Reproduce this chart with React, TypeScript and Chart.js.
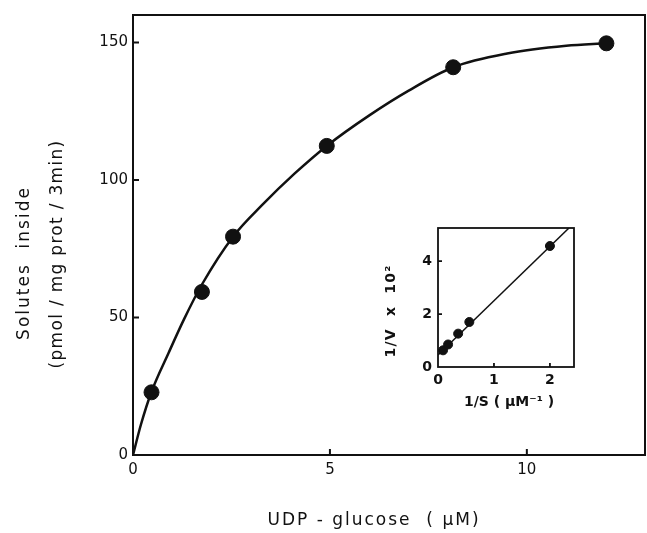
import React, { useEffect, useRef } from "react";
import { Chart, registerables } from "chart.js";

Chart.register(...registerables);

// ---- Main plot data ----
const substrateUM = [0.47, 1.75, 2.54, 4.92, 8.13, 12.02];
const solutesInside = [22.8, 59.3, 79.4, 112.4, 141.0, 149.7];
// hand-drawn saturation curve, read at points along its path
const curveS = [0, 0.2, 0.47, 0.9, 1.3, 1.75, 2.54, 3.3, 4.1, 4.92, 6.0, 7.0, 8.13, 9.5, 11.0, 12.02];
const curveV = [0, 11.0, 23.0, 37.0, 49.5, 62.0, 79.4, 91.2, 102.3, 112.4, 123.5, 132.5, 141.0, 146.0, 148.8, 149.7];
const mainXTicks = [0, 5, 10];
const mainYTicks = [0, 50, 100, 150];

// ---- Inset (Lineweaver-Burk) data ----
const inverseS = [0.09, 0.18, 0.36, 0.56, 2.0];
const inverseV = [0.63, 0.85, 1.26, 1.7, 4.57];
const fitInvS = [0, 2.34];
const fitInvV = [0.45, 5.25];
const insetXTicks = [0, 1, 2];
const insetYTicks = [0, 2, 4];

const INK = "#111";

type TextItem = { text: string; x: number; y: number; rot: number; font: string; spacing: number };

function framePlugin(len: number, lw: number) {
  return {
    id: "frameTicks",
    beforeDatasetsDraw(chart: any) {
      const { ctx, chartArea } = chart;
      const { left, right, top, bottom } = chartArea;
      const x = chart.scales.x;
      const y = chart.scales.y;
      ctx.save();
      ctx.strokeStyle = INK;
      ctx.lineWidth = lw;
      ctx.strokeRect(left, top, right - left, bottom - top);
      ctx.beginPath();
      x.ticks.forEach((t: any) => {
        if (t.value === x.min) return;
        const px = x.getPixelForValue(t.value);
        ctx.moveTo(px, bottom);
        ctx.lineTo(px, bottom - len);
      });
      y.ticks.forEach((t: any) => {
        if (t.value === y.min) return;
        const py = y.getPixelForValue(t.value);
        ctx.moveTo(left, py);
        ctx.lineTo(left + len, py);
      });
      ctx.stroke();
      ctx.restore();
    },
  };
}

function textPlugin(items: TextItem[]) {
  return {
    id: "titles",
    afterDraw(chart: any) {
      const ctx = chart.ctx;
      items.forEach((it) => {
        ctx.save();
        ctx.fillStyle = INK;
        ctx.font = it.font;
        (ctx as any).letterSpacing = it.spacing + "px";
        ctx.textAlign = "center";
        ctx.textBaseline = "middle";
        ctx.translate(it.x, it.y);
        ctx.rotate(it.rot);
        ctx.fillText(it.text, 0, 0);
        ctx.restore();
      });
    },
  };
}

const fixX = (h: number) => (s: any) => {
  s.height = h;
  s.paddingLeft = 0;
  s.paddingRight = 0;
};
const fixY = (w: number) => (s: any) => {
  s.width = w;
  s.paddingTop = 0;
  s.paddingBottom = 0;
};

export default function App() {
  const mainRef = useRef<HTMLCanvasElement>(null);
  const insetRef = useRef<HTMLCanvasElement>(null);

  useEffect(() => {
    const tickFont = { family: "DejaVu Sans", size: 15 };
    const main = new Chart(mainRef.current as HTMLCanvasElement, {
      type: "scatter",
      data: {
        datasets: [
          {
            type: "scatter",
            data: substrateUM.map((s, i) => ({ x: s, y: solutesInside[i] })),
            backgroundColor: INK,
            borderColor: INK,
            pointRadius: 7.5,
            order: 0,
          },
          {
            type: "line",
            data: curveS.map((s, i) => ({ x: s, y: curveV[i] })),
            borderColor: INK,
            borderWidth: 2.5,
            pointRadius: 0,
            cubicInterpolationMode: "monotone",
            fill: false,
            order: 1,
          } as any,
        ],
      },
      options: {
        responsive: false,
        animation: false,
        layout: { autoPadding: false, padding: { top: 15, right: 2, left: 0, bottom: 0 } },
        plugins: { legend: { display: false }, tooltip: { enabled: false } },
        scales: {
          x: {
            type: "linear",
            min: 0,
            max: 13,
            afterBuildTicks: (s: any) => {
              s.ticks = mainXTicks.map((v) => ({ value: v }));
            },
            afterFit: fixX(78),
            grid: { display: false, drawTicks: false },
            border: { display: false },
            ticks: { padding: 6, color: INK, font: tickFont, maxRotation: 0, autoSkip: false },
          },
          y: {
            type: "linear",
            min: 0,
            max: 160,
            afterBuildTicks: (s: any) => {
              s.ticks = mainYTicks.map((v) => ({ value: v }));
            },
            afterFit: fixY(133),
            grid: { display: false, drawTicks: false },
            border: { display: false },
            ticks: { padding: 5, color: INK, font: tickFont, autoSkip: false },
          },
        },
      },
      plugins: [
        framePlugin(6, 2),
        textPlugin([
          { text: "Solutes  inside", x: 25, y: 263, rot: -Math.PI / 2, font: "17px 'DejaVu Sans'", spacing: 2 },
          { text: "(pmol / mg prot / 3min)", x: 58, y: 254, rot: -Math.PI / 2, font: "17px 'DejaVu Sans'", spacing: 1.3 },
          { text: "UDP - glucose  ( μM)", x: 374, y: 521, rot: 0, font: "17px 'DejaVu Sans'", spacing: 2 },
        ]),
      ],
    });

    const insetFont = { family: "DejaVu Sans", size: 14, weight: "bold" as const };
    const inset = new Chart(insetRef.current as HTMLCanvasElement, {
      type: "scatter",
      data: {
        datasets: [
          {
            type: "scatter",
            data: inverseS.map((s, i) => ({ x: s, y: inverseV[i] })),
            backgroundColor: INK,
            borderColor: INK,
            pointRadius: 4.5,
            order: 0,
          },
          {
            type: "line",
            data: fitInvS.map((s, i) => ({ x: s, y: fitInvV[i] })),
            borderColor: INK,
            borderWidth: 1.5,
            pointRadius: 0,
            fill: false,
            order: 1,
          } as any,
        ],
      },
      options: {
        responsive: false,
        animation: false,
        layout: { autoPadding: false, padding: { top: 13, right: 11, left: 0, bottom: 0 } },
        plugins: { legend: { display: false }, tooltip: { enabled: false } },
        scales: {
          x: {
            type: "linear",
            min: 0,
            max: 2.43,
            afterBuildTicks: (s: any) => {
              s.ticks = insetXTicks.map((v) => ({ value: v }));
            },
            afterFit: fixX(48),
            grid: { display: false, drawTicks: false },
            border: { display: false },
            ticks: { padding: 5, color: INK, font: insetFont, maxRotation: 0, autoSkip: false },
          },
          y: {
            type: "linear",
            min: 0,
            max: 5.25,
            afterBuildTicks: (s: any) => {
              s.ticks = insetYTicks.map((v) => ({ value: v }));
            },
            afterFit: fixY(68),
            grid: { display: false, drawTicks: false },
            border: { display: false },
            ticks: { padding: 6, color: INK, font: insetFont, autoSkip: false },
          },
        },
      },
      plugins: [
        framePlugin(4, 1.8),
        textPlugin([
          { text: "1/V  x  10²", x: 21, y: 96, rot: -Math.PI / 2, font: "bold 14px 'DejaVu Sans'", spacing: 1.2 },
          { text: "1/S ( μM⁻¹ )", x: 139, y: 187, rot: 0, font: "bold 14px 'DejaVu Sans'", spacing: 0 },
        ]),
      ],
    });

    return () => {
      main.destroy();
      inset.destroy();
    };
  }, []);

  return (
    <div style={{ position: "absolute", left: 0, top: 0, width: 647, height: 533, background: "#fff" }}>
      <canvas ref={mainRef} width={647} height={533} style={{ position: "absolute", left: 0, top: 0 }} />
      <canvas ref={insetRef} width={215} height={200} style={{ position: "absolute", left: 370, top: 215 }} />
    </div>
  );
}
